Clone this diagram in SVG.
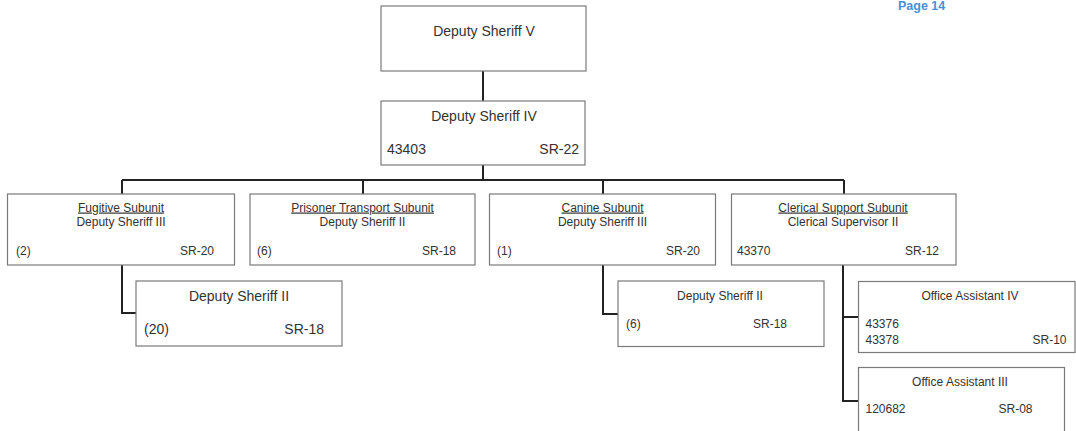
<svg xmlns="http://www.w3.org/2000/svg" width="1076" height="431" viewBox="0 0 1076 431">
<style>
.box{fill:#fff;stroke:#7a7a7a;stroke-width:1.2}
.t{font-family:"Liberation Sans",Arial,sans-serif;fill:#333;font-size:12px}
.l{font-size:14px}
.c{text-anchor:middle}
.r{text-anchor:end}
.u{text-decoration:underline}
.conn{fill:none;stroke:#222;stroke-width:2}
</style>
<rect width="1076" height="431" fill="#fff"/>
<text x="898" y="10" font-family="Liberation Sans,Arial,sans-serif" font-size="12.5" font-weight="bold" fill="#4a8fd6">Page 14</text>
<g id="connectors">
<path class="conn" d="M483 71V101M483 165V180M122 180H844M122 180V265M363 180V194M603 180V194M844 180V194"/>
<path class="conn" d="M122 265V313H136"/>
<path class="conn" d="M603 265V314H618"/>
<path class="conn" d="M843 265V401H858M843 317H858"/>
</g>
<g id="ds5">
<rect class="box" x="381" y="6" width="205" height="65"/>
<text class="t l c" x="484" y="36">Deputy Sheriff V</text>
</g>
<g id="ds4">
<rect class="box" x="381" y="101" width="204" height="64"/>
<text class="t l c" x="484" y="121">Deputy Sheriff IV</text>
<text class="t l" x="387" y="154">43403</text>
<text class="t l r" x="579" y="154">SR-22</text>
</g>
<g id="fugitive">
<rect class="box" x="7.5" y="194" width="227" height="71"/>
<text class="t c u" x="121" y="211.5">Fugitive Subunit</text>
<text class="t c" x="121" y="226">Deputy Sheriff III</text>
<text class="t" x="16" y="255">(2)</text>
<text class="t r" x="214" y="255">SR-20</text>
</g>
<g id="prisoner">
<rect class="box" x="250" y="194" width="225" height="71"/>
<text class="t c u" x="362.5" y="211.5">Prisoner Transport Subunit</text>
<text class="t c" x="362.5" y="226">Deputy Sheriff II</text>
<text class="t" x="257" y="255">(6)</text>
<text class="t r" x="456" y="255">SR-18</text>
</g>
<g id="canine">
<rect class="box" x="489.5" y="194" width="226" height="71"/>
<text class="t c u" x="602.5" y="211.5">Canine Subunit</text>
<text class="t c" x="602.5" y="226">Deputy Sheriff III</text>
<text class="t" x="497" y="255">(1)</text>
<text class="t r" x="700" y="255">SR-20</text>
</g>
<g id="clerical">
<rect class="box" x="731.5" y="194" width="224.5" height="71"/>
<text class="t c u" x="843" y="211.5">Clerical Support Subunit</text>
<text class="t c" x="843" y="226">Clerical Supervisor II</text>
<text class="t" x="737" y="255">43370</text>
<text class="t r" x="939" y="255">SR-12</text>
</g>
<g id="fugitive-ds2">
<rect class="box" x="136" y="281" width="206" height="65"/>
<text class="t l c" x="239" y="301">Deputy Sheriff II</text>
<text class="t l" x="144" y="334">(20)</text>
<text class="t l r" x="324" y="334">SR-18</text>
</g>
<g id="canine-ds2">
<rect class="box" x="618" y="281" width="206" height="65.5"/>
<text class="t c" x="720" y="300">Deputy Sheriff II</text>
<text class="t" x="626" y="328">(6)</text>
<text class="t r" x="787" y="328">SR-18</text>
</g>
<g id="oa4">
<rect class="box" x="858.5" y="281.5" width="216.5" height="71"/>
<text class="t c" x="970" y="300">Office Assistant IV</text>
<text class="t" x="865.5" y="327.5">43376</text>
<text class="t" x="865.5" y="343.5">43378</text>
<text class="t r" x="1066.5" y="343.5">SR-10</text>
</g>
<g id="oa3">
<rect class="box" x="858.5" y="367.5" width="206" height="70"/>
<text class="t c" x="960" y="385.5">Office Assistant III</text>
<text class="t" x="865.5" y="413">120682</text>
<text class="t r" x="1032.5" y="413">SR-08</text>
</g>
</svg>
